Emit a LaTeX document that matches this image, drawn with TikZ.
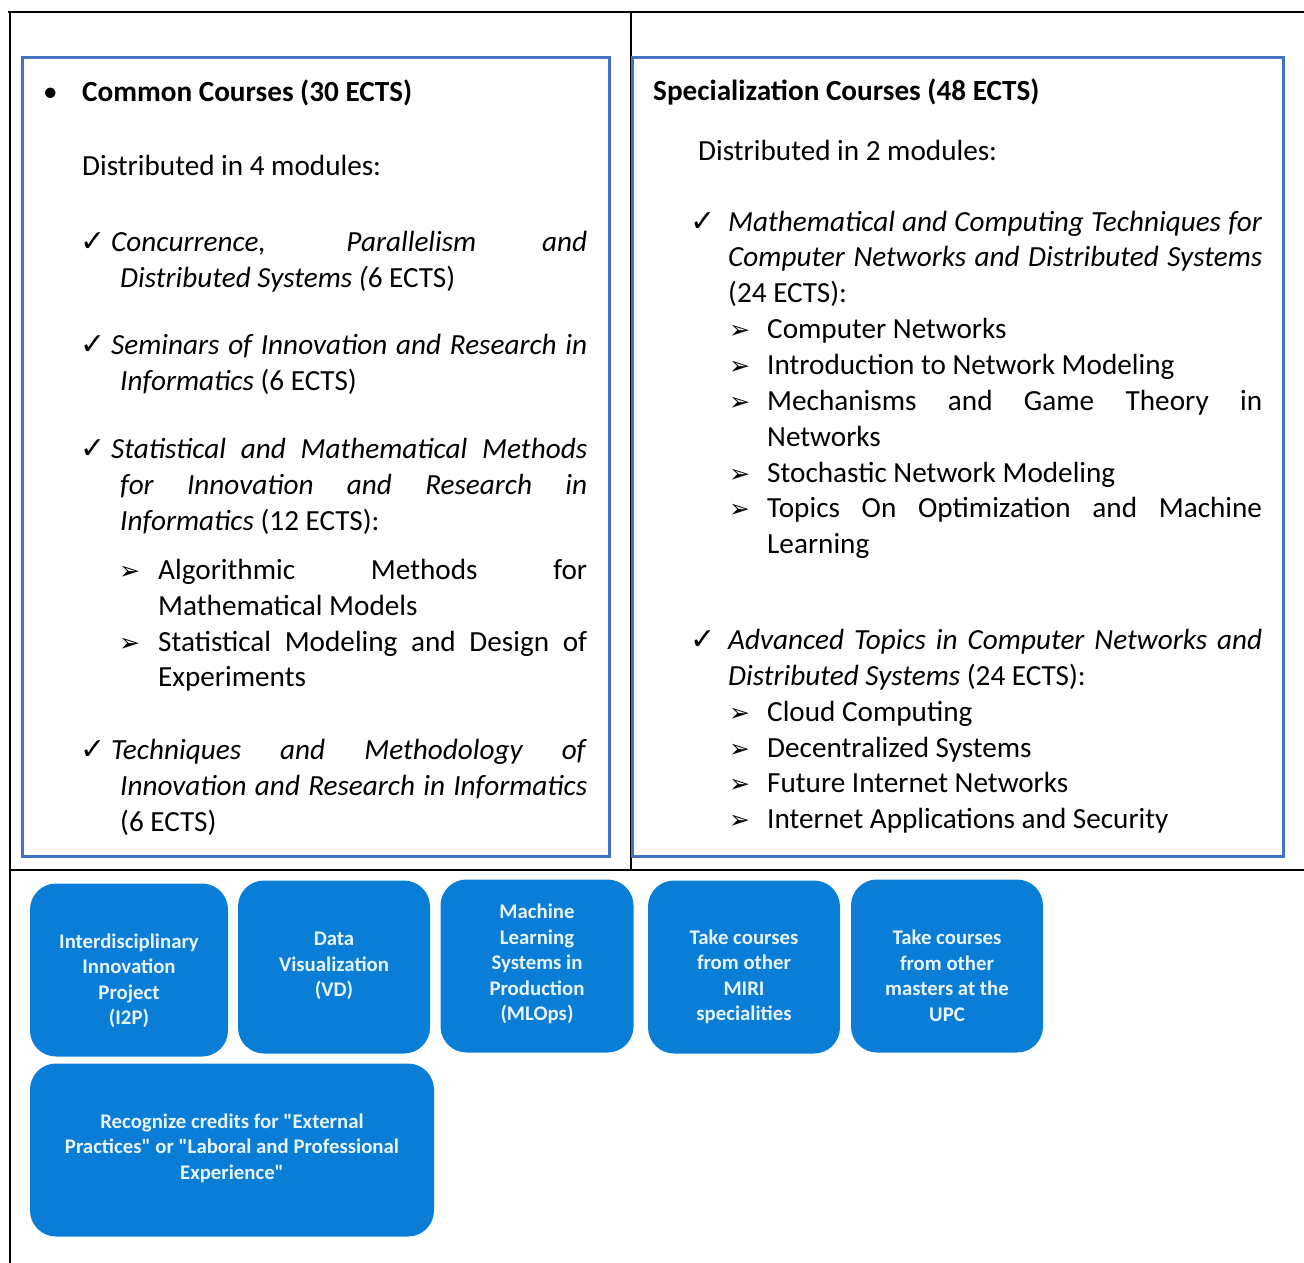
\documentclass[tikz,border=0pt]{standalone}
\usepackage{fontspec}
\setmainfont{Carlito}
\newfontfamily\symbfont{DejaVu Sans}
\definecolor{panelblue}{RGB}{68,114,196}
\definecolor{tileblue}{RGB}{10,125,215}
\definecolor{tiletext}{RGB}{232,244,252}
\newcommand{\jline}[2]{\makebox[#1pt][s]{#2}}
\begin{document}
\begin{tikzpicture}[x=1pt, y=-1pt,
  frame/.style={line width=1.6pt, black},
  panel/.style={line width=3pt, panelblue},
  body/.style={anchor=base west, inner sep=0pt, font=\fontsize{29.2}{36}\selectfont},
  chk/.style={anchor=base west, inner sep=0pt, font=\symbfont\fontsize{30}{30}\selectfont},
  arr/.style={anchor=base west, inner sep=0pt, font=\symbfont\fontsize{25}{25}\selectfont},
  tile/.style={fill=tileblue, rounded corners=26pt, minimum height=173pt, inner sep=0pt},
  tiletxt/.style={align=center, text=tiletext, inner sep=0pt, font=\fontsize{20.8}{25.5}\selectfont\bfseries}]
\useasboundingbox (0,0) rectangle (1304,1263);
% table lines
\draw[frame] (8,12) -- (1304,12);
\draw[frame] (10,12) -- (10,1263);
\draw[frame] (631,12) -- (631,870);
\draw[frame] (10,870) -- (1304,870);
% the two blue panels
\draw[panel] (22,58) rectangle (609,856);
\draw[panel] (632,58) rectangle (1283,856);

% left panel
\node[body] (bul) at (43,102) {•};
\node[body] (common) at (82,102) {\textbf{Common Courses (30 ECTS)}};
\node[body] (dist4) at (82,175) {Distributed in 4 modules:};
\foreach \y [count=\i] in {251,354,458,759}
  \node[chk] (lc\i) at (80,\y) {✓};
\foreach \y [count=\i] in {579,651}
  \node[arr] (la\i) at (119,\y) {➢};
\node[body] (cpd) at (111,251) {\jline{476}{\textit{Concurrence, Parallelism and}}};
\node[body] (cpd2) at (120,287) {\textit{Distributed Systems (}6 ECTS)};
\node[body] (sem) at (111,354) {\jline{476}{\textit{Seminars of Innovation and Research in}}};
\node[body] (sem2) at (120,390) {\textit{Informatics} (6 ECTS)};
\node[body] (stat) at (111,458) {\jline{476}{\textit{Statistical and Mathematical Methods}}};
\node[body] (stat2) at (120,494) {\jline{467}{\textit{for Innovation and Research in}}};
\node[body] (stat3) at (120,530) {\textit{Informatics} (12 ECTS):};
\node[body] (alg) at (158,579) {\jline{429}{Algorithmic Methods for}};
\node[body] (alg2) at (158,615) {Mathematical Models};
\node[body] (sm) at (158,651) {\jline{429}{Statistical Modeling and Design of}};
\node[body] (sm2) at (158,686) {Experiments};
\node[body] (tech) at (111,759) {\jline{476}{\textit{Techniques and Methodology of}}};
\node[body] (tech2) at (120,795) {\jline{467}{\textit{Innovation and Research in Informatics}}};
\node[body] (tech3) at (120,831) {(6 ECTS)};

% right panel
\node[body] (spec) at (653,100) {\textbf{Specialization Courses (48 ECTS)}};
\node[body] (dist2) at (698,160) {Distributed in 2 modules:};
\foreach \y [count=\i] in {231,649}
  \node[chk] (rc\i) at (690,\y) {✓};
\foreach \y [count=\i] in {338,374,410,482,517,721,757,792,828}
  \node[arr] (ra\i) at (729,\y) {➢};
\node[body] (mct) at (728,231) {\jline{534}{\textit{Mathematical and Computing Techniques for}}};
\node[body] (mct2) at (728,266) {\jline{534}{\textit{Computer Networks and Distributed Systems}}};
\node[body] (mct3) at (728,302) {(24 ECTS):};
\node[body] (cn) at (767,338) {Computer Networks};
\node[body] (inm) at (767,374) {Introduction to Network Modeling};
\node[body] (mgt) at (767,410) {\jline{495}{Mechanisms and Game Theory in}};
\node[body] (mgt2) at (767,446) {Networks};
\node[body] (snm) at (767,482) {Stochastic Network Modeling};
\node[body] (toml) at (767,517) {\jline{495}{Topics On Optimization and Machine}};
\node[body] (toml2) at (767,553) {Learning};
\node[body] (atc) at (728,649) {\jline{534}{\textit{Advanced Topics in Computer Networks and}}};
\node[body] (atc2) at (728,685) {\textit{Distributed Systems} (24 ECTS):};
\node[body] (cc) at (767,721) {Cloud Computing};
\node[body] (ds) at (767,757) {Decentralized Systems};
\node[body] (fin) at (767,792) {Future Internet Networks};
\node[body] (ias) at (767,828) {Internet Applications and Security};

% elective tiles
\node[tile, minimum width=198pt] (i2p) at (129,970) {};
\node[tile, minimum width=192pt] (vd) at (334,967) {};
\node[tile, minimum width=193pt] (mlops) at (537,966) {};
\node[tile, minimum width=192pt] (miri) at (744,967) {};
\node[tile, minimum width=192pt] (upc) at (947,966) {};
\node[tile, minimum width=404pt] (credits) at (232,1150) {};
\node[tiletxt] (i2p-t) at (129,981) {Interdisciplinary\\Innovation\\Project\\(I2P)};
\node[tiletxt] (vd-t) at (334,966) {Data\\Visualization\\(VD)};
\node[tiletxt] (mlops-t) at (537,964) {Machine\\Learning\\Systems in\\Production\\(MLOps)};
\node[tiletxt] (miri-t) at (744,977) {Take courses\\from other\\MIRI\\specialities};
\node[tiletxt] (upc-t) at (947,976) {Take courses\\from other\\masters at the\\UPC};
\node[tiletxt] (credits-t) at (232,1148) {Recognize credits for \textquotedbl External\\Practices\textquotedbl{} or \textquotedbl Laboral and Professional\\Experience\textquotedbl};
\end{tikzpicture}
\end{document}
